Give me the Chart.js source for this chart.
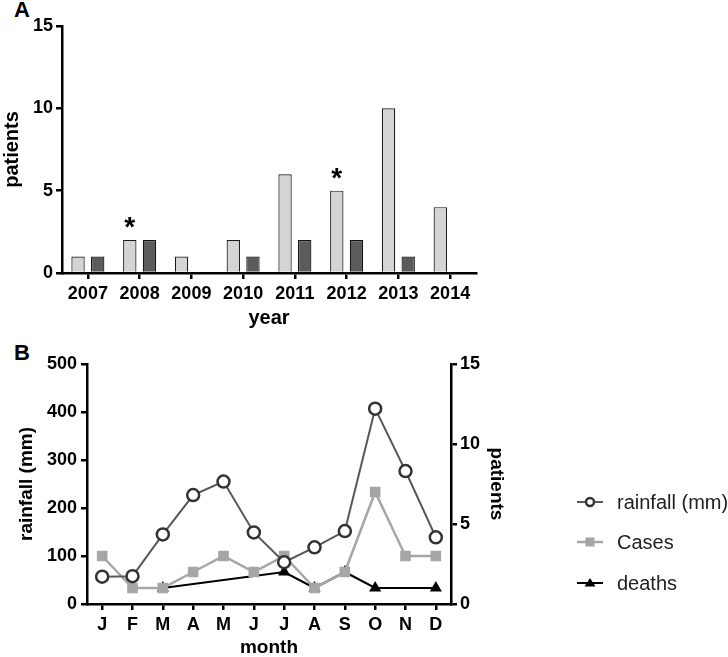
<!DOCTYPE html>
<html>
<head>
<meta charset="utf-8">
<script src="https://cdn.jsdelivr.net/npm/chart.js@4.4.0/dist/chart.umd.min.js"></script>
<style>
    body { margin: 0; background: #fff; }
    #wrap { position: relative; width: 728px; height: 657px; overflow: hidden; font-family: 'Liberation Sans', Arial, sans-serif; }
    canvas { position: absolute; left: 0; }
    .panel-tag { position: absolute; font-weight: bold; font-size: 22px; color: #000; }
</style>
</head>
<body>
<div id="wrap">
    <div class="panel-tag" style="left:14px; top:-3px;">A</div>
    <canvas id="yearChart" width="728" height="330" style="top:0"></canvas>
    <div class="panel-tag" style="left:14px; top:340px;">B</div>
    <canvas id="monthChart" width="728" height="327" style="top:330px"></canvas>
</div>
<script>
const years = ['2007', '2008', '2009', '2010', '2011', '2012', '2013', '2014'];
const casesByYear = [1, 2, 1, 2, 6, 5, 10, 4];
const deathsByYear = [1, 2, 0, 1, 2, 2, 1, 0];
const starredYears = ['2008', '2012'];

const months = ['J', 'F', 'M', 'A', 'M', 'J', 'J', 'A', 'S', 'O', 'N', 'D'];
const rainfall = [57, 58, 145, 227, 255, 149, 87, 118, 152, 407, 277, 139];
const casesByMonth = [3, 1, 1, 2, 3, 2, 3, 1, 2, 7, 3, 3];
const deathsByMonth = [null, null, 1, null, null, null, 2, 1, 2, 1, null, 1];

const FONT = "'Liberation Sans', Arial, sans-serif";
const tickFont = { family: FONT, size: 18, weight: 'bold' };

function axisGrid() {
    return {
        display: true,
        drawOnChartArea: false,
        drawTicks: true,
        tickLength: 6,
        color: '#000',
        lineWidth: 2.5,
        offset: false
    };
}

const starPlugin = {
    id: 'stars',
    afterDatasetsDraw: function (chart) {
        const ctx = chart.ctx;
        const bars = chart.getDatasetMeta(0).data;
        ctx.save();
        ctx.fillStyle = '#000';
        ctx.font = 'bold 28px ' + FONT;
        ctx.textAlign = 'center';
        ctx.textBaseline = 'alphabetic';
        starredYears.forEach(function (y) {
            const bar = bars[years.indexOf(y)];
            ctx.fillText('*', bar.x, bar.y - 4);
        });
        ctx.restore();
    }
};

new Chart(document.getElementById('yearChart'), {
    type: 'bar',
    data: {
        labels: years,
        datasets: [
            {
                label: 'Cases',
                data: casesByYear,
                backgroundColor: '#d4d4d4',
                borderColor: '#1a1a1a',
                borderWidth: 1.2
            },
            {
                label: 'deaths',
                data: deathsByYear,
                backgroundColor: '#5b5b5b',
                borderColor: '#111',
                borderWidth: 1.2
            }
        ]
    },
    options: {
        responsive: false,
        animation: false,
        layout: { padding: { left: 0, right: 252, top: 26, bottom: 0 } },
        plugins: { legend: { display: false }, tooltip: { enabled: false } },
        datasets: { bar: { categoryPercentage: 0.76, barPercentage: 0.68 } },
        scales: {
            x: {
                offset: true,
                grid: axisGrid(),
                border: { display: true, color: '#000', width: 2.5 },
                ticks: { color: '#000', font: tickFont, padding: 4, maxRotation: 0 },
                title: { display: true, text: 'year', color: '#000', font: { family: FONT, size: 20, weight: 'bold', lineHeight: 1.2 }, padding: 0 },
                afterFit: function (scale) { scale.height = 57; }
            },
            y: {
                min: 0,
                max: 15,
                grid: axisGrid(),
                border: { display: true, color: '#000', width: 2.5 },
                ticks: { color: '#000', font: tickFont, stepSize: 5, padding: 3 },
                title: { display: true, text: 'patients', color: '#000', font: { family: FONT, size: 20, weight: 'bold', lineHeight: 1.2 }, padding: 0 },
                afterFit: function (scale) { scale.width = 62; }
            }
        }
    },
    plugins: [starPlugin]
});

const legendPlugin = {
    id: 'sideLegend',
    afterDraw: function (chart) {
        const ctx = chart.ctx;
        const rows = [172, 212, 253];
        ctx.save();
        chart.data.datasets.forEach(function (ds, i) {
            const y = rows[i];
            ctx.strokeStyle = ds.borderColor;
            ctx.lineWidth = ds.borderWidth;
            ctx.beginPath();
            ctx.moveTo(577, y);
            ctx.lineTo(603, y);
            ctx.stroke();
            const cx = 590;
            ctx.fillStyle = ds.pointBackgroundColor;
            ctx.strokeStyle = ds.pointBorderColor;
            ctx.lineWidth = ds.pointBorderWidth;
            ctx.beginPath();
            if (ds.pointStyle === 'circle') {
                ctx.arc(cx, y, 4, 0, Math.PI * 2);
                ctx.fill();
                ctx.stroke();
            } else if (ds.pointStyle === 'rect') {
                ctx.rect(cx - 4.5, y - 4.5, 9, 9);
                ctx.fill();
            } else {
                ctx.moveTo(cx, y - 5);
                ctx.lineTo(cx + 5.5, y + 3.5);
                ctx.lineTo(cx - 5.5, y + 3.5);
                ctx.closePath();
                ctx.fill();
            }
            ctx.fillStyle = '#222';
            ctx.font = '20px ' + FONT;
            ctx.textAlign = 'left';
            ctx.textBaseline = 'middle';
            ctx.fillText(ds.label, 617, y + 1);
        });
        ctx.restore();
    }
};

new Chart(document.getElementById('monthChart'), {
    type: 'line',
    data: {
        labels: months,
        datasets: [
            {
                label: 'rainfall (mm)',
                data: rainfall,
                yAxisID: 'y',
                order: 1,
                borderColor: '#585858',
                borderWidth: 2,
                pointStyle: 'circle',
                pointRadius: 6,
                pointBackgroundColor: '#fff',
                pointBorderColor: '#333',
                pointBorderWidth: 2.5,
                tension: 0
            },
            {
                label: 'Cases',
                data: casesByMonth,
                yAxisID: 'y2',
                order: 2,
                borderColor: '#a6a6a6',
                borderWidth: 2.5,
                pointStyle: 'rect',
                pointRadius: 7.5,
                pointBackgroundColor: '#a6a6a6',
                pointBorderColor: '#a6a6a6',
                pointBorderWidth: 0,
                tension: 0
            },
            {
                label: 'deaths',
                data: deathsByMonth,
                yAxisID: 'y2',
                order: 3,
                spanGaps: true,
                borderColor: '#000',
                borderWidth: 2,
                pointStyle: 'triangle',
                pointRadius: 7,
                pointBackgroundColor: '#000',
                pointBorderColor: '#000',
                pointBorderWidth: 0,
                tension: 0
            }
        ]
    },
    options: {
        responsive: false,
        animation: false,
        layout: { padding: { left: 0, right: 217, top: 34, bottom: 0 } },
        plugins: { legend: { display: false }, tooltip: { enabled: false } },
        scales: {
            x: {
                offset: true,
                grid: axisGrid(),
                border: { display: true, color: '#000', width: 2.5 },
                ticks: { color: '#000', font: tickFont, padding: 4, maxRotation: 0, autoSkip: false },
                title: { display: true, text: 'month', color: '#000', font: { family: FONT, size: 19, weight: 'bold', lineHeight: 1.0 }, padding: 0 },
                afterFit: function (scale) { scale.height = 53; }
            },
            y: {
                position: 'left',
                min: 0,
                max: 500,
                grid: axisGrid(),
                border: { display: true, color: '#000', width: 2.5 },
                ticks: { color: '#000', font: tickFont, stepSize: 100, padding: 4 },
                title: { display: true, text: 'rainfall (mm)', color: '#000', font: { family: FONT, size: 19, weight: 'bold', lineHeight: 1.2 }, padding: { top: 15, bottom: 0 } },
                afterFit: function (scale) { scale.width = 87; }
            },
            y2: {
                position: 'right',
                min: 0,
                max: 15,
                grid: axisGrid(),
                border: { display: true, color: '#000', width: 2.5 },
                ticks: { color: '#000', font: tickFont, stepSize: 5, padding: 3 },
                title: { display: true, text: 'patients', color: '#000', font: { family: FONT, size: 19, weight: 'bold', lineHeight: 1.2 }, padding: { top: 3, bottom: 0 } },
                afterFit: function (scale) { scale.width = 60; }
            }
        }
    },
    plugins: [legendPlugin]
});
</script>
</body>
</html>
